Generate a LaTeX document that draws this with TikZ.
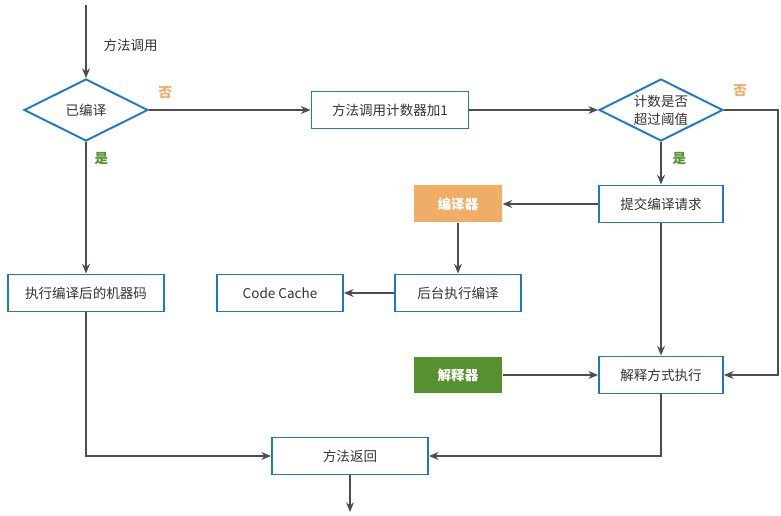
\documentclass[tikz,border=0pt]{standalone}
\usepackage{fontspec}
\setmainfont{Noto Sans CJK SC}
\usetikzlibrary{arrows.meta,positioning,shapes.geometric}
\definecolor{bblue}{HTML}{1E78C8}
\definecolor{orng}{HTML}{F0AD68}
\definecolor{grn}{HTML}{57912F}
\definecolor{txt}{HTML}{333333}
\definecolor{lgray}{HTML}{4D4D4D}
\newcommand\nfont{\fontsize{7.7pt}{10.2pt}\selectfont}

\begin{document}
\begin{tikzpicture}[x=0.02cm,y=-0.02cm,>={Stealth[length=5.5pt,width=4.5pt]},color=lgray,line width=0.7pt,every node/.append style={font=\nfont,text=txt},
b/.style={draw=bblue,line width=1.1pt,fill=white,minimum height=0.74cm,inner sep=0pt},
d/.style={b,diamond,aspect=2,minimum width=2.48cm,minimum height=1.24cm,align=center},
f/.style={minimum width=1.76cm,minimum height=0.74cm,inner sep=0pt,text=white,font=\nfont\bfseries},
no/.style={font=\nfont\bfseries,text=orng,inner sep=0pt},
yes/.style={font=\nfont\bfseries,text=grn,inner sep=0pt}]
\useasboundingbox (0,0) rectangle (781,516);
\coordinate (top) at (86,5); \coordinate (end) at (350,512);
\node[d] (cmp) at (86,110) {已编译};
\node[b,minimum width=3.14cm] (cnt) at (390,110) {方法调用计数器加1};
\node[d] (thr) at (661,110) {计数是否\\超过阈值};
\node[b,minimum width=2.48cm] (sub) at (661,204) {提交编译请求};
\node[f,fill=orng] (jit) at (458,204) {编译器};
\node[b,minimum width=2.52cm] (bg) at (458,293) {后台执行编译};
\node[b,minimum width=2.52cm] (cc) at (280,293) {Code Cache};
\node[b,minimum width=3.12cm] (run) at (86,293) {执行编译后的机器码};
\node[b,minimum width=2.48cm] (itp) at (661,375) {解释方式执行};
\node[f,fill=grn] (ie) at (458,375) {解释器};
\node[b,minimum width=3.12cm] (ret) at (350,456) {方法返回};
\draw[->] (top) -- node[right=0.34cm,inner sep=0pt,yshift=-2pt]{方法调用} (cmp);
\draw[->] (cmp) -- node[no,pos=0.1,above=0.22cm]{否} (cnt);
\draw[->] (cmp) -- node[yes,pos=0.13,right=0.16cm]{是} (run);
\draw[->] (cnt) -- (thr);
\draw[->] (thr.east) -- node[no,pos=0.3,above=0.26cm]{否} ++(54,0) |- (itp);
\draw[->] (thr) -- node[yes,pos=0.4,right=0.22cm]{是} (sub);
\draw[->] (sub) -- (jit);
\draw[->] (jit) -- (bg);
\draw[->] (bg) -- (cc);
\draw[->] (sub) -- (itp);
\draw[->] (ie) -- (itp);
\draw[->] (run) |- (ret);
\draw[->] (itp) |- (ret);
\draw[->] (ret) -- (end);
\end{tikzpicture}
\end{document}
